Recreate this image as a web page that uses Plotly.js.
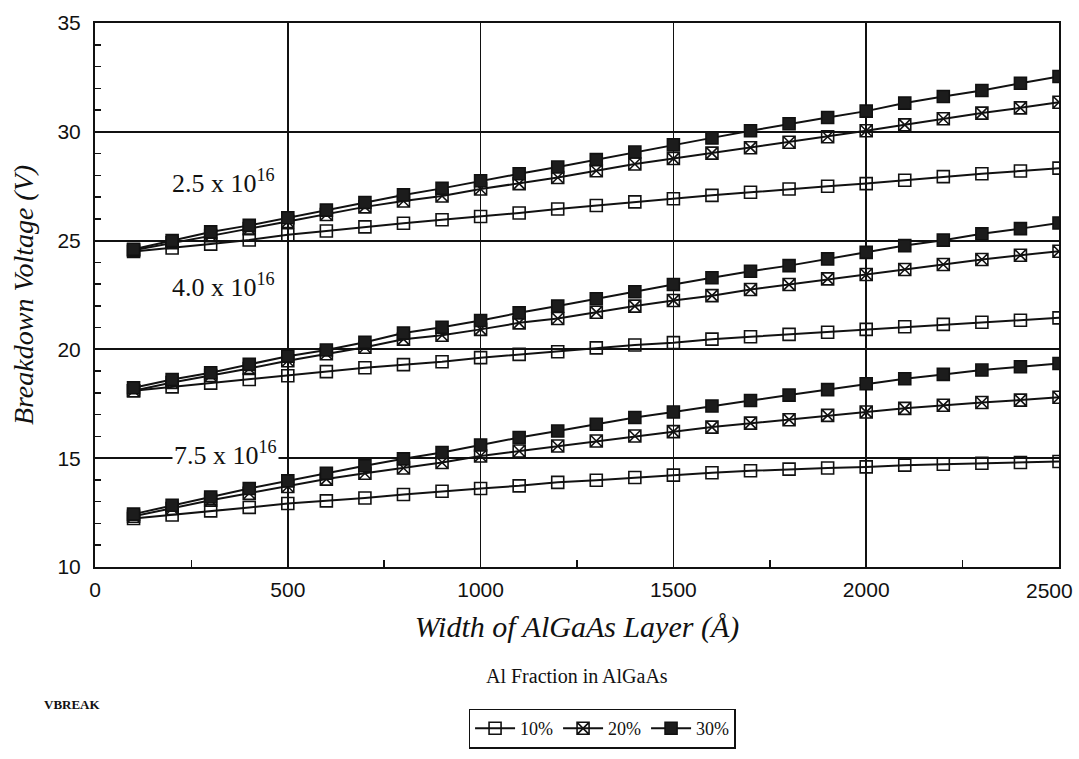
<!DOCTYPE html>
<html><head><meta charset="utf-8">
<script src="https://cdn.plot.ly/plotly-3.0.1.min.js"></script>
<style>html,body{margin:0;padding:0;background:#fff}#chart{width:1079px;height:759px}</style>
</head><body><div id="chart"></div>
<script>
// Width of AlGaAs layer (Å)
const widths = [100,200,300,400,500,600,700,800,900,1000,1100,1200,1300,1400,1500,1600,1700,1800,1900,2000,2100,2200,2300,2400,2500];

// Doping 2.5 x 10^16
const top10 = [24.50,24.66,24.84,25.03,25.27,25.44,25.63,25.80,25.96,26.11,26.27,26.45,26.61,26.78,26.92,27.08,27.22,27.37,27.50,27.62,27.77,27.94,28.07,28.20,28.33];
const top20 = [24.56,24.90,25.23,25.55,25.88,26.20,26.55,26.82,27.05,27.37,27.62,27.90,28.21,28.52,28.77,29.02,29.27,29.52,29.77,30.05,30.32,30.60,30.86,31.10,31.36];
const top30 = [24.60,25.00,25.40,25.70,26.05,26.40,26.75,27.10,27.40,27.75,28.07,28.38,28.72,29.07,29.40,29.72,30.05,30.37,30.66,30.95,31.32,31.62,31.90,32.23,32.54];

// Doping 4.0 x 10^16
const mid10 = [18.10,18.28,18.45,18.62,18.79,18.98,19.16,19.30,19.43,19.62,19.77,19.89,20.07,20.20,20.31,20.47,20.58,20.69,20.79,20.92,21.04,21.15,21.25,21.34,21.45];
const mid20 = [18.10,18.48,18.80,19.12,19.48,19.80,20.10,20.47,20.65,20.92,21.22,21.42,21.71,21.99,22.25,22.47,22.75,22.98,23.24,23.44,23.67,23.90,24.13,24.33,24.51];
const mid30 = [18.24,18.62,18.93,19.31,19.69,19.97,20.33,20.75,21.02,21.33,21.68,21.99,22.33,22.65,22.98,23.29,23.59,23.85,24.16,24.46,24.77,25.02,25.31,25.55,25.81];

// Doping 7.5 x 10^16
const bot10 = [12.23,12.39,12.58,12.74,12.92,13.04,13.17,13.33,13.48,13.61,13.73,13.89,13.99,14.11,14.22,14.33,14.42,14.50,14.55,14.60,14.68,14.72,14.77,14.80,14.85];
const bot20 = [12.33,12.69,13.07,13.39,13.70,14.04,14.31,14.55,14.80,15.10,15.33,15.56,15.79,16.02,16.22,16.43,16.61,16.77,16.97,17.12,17.29,17.43,17.56,17.67,17.80];
const bot30 = [12.43,12.84,13.22,13.61,13.96,14.31,14.65,14.97,15.26,15.61,15.95,16.25,16.56,16.87,17.12,17.40,17.65,17.90,18.15,18.42,18.65,18.85,19.05,19.20,19.35];

const xTickVals = [0,500,1000,1500,2000,2500];
const xTickText = ['0','500','1000','1500','2000','2500'];
const seriesNames = ['10%','20%','30%'];
const dopingLabels = ['2.5 x 10<sup>16</sup>','4.0 x 10<sup>16</sup>','7.5 x 10<sup>16</sup>'];
const groups = [[top10,top20,top30],[mid10,mid20,mid30],[bot10,bot20,bot30]];

const markerStyles = [
  {symbol:'square-open', color:'#111', size:12, line:{width:1.6,color:'#111'}},
  {symbol:'square-x-open', color:'#111', size:12, line:{width:1.6,color:'#111'}},
  {symbol:'square', color:'#1c1c1c', size:12, line:{width:1.6,color:'#111'}}
];

const traces = [];
groups.forEach((g,gi)=>{
  g.forEach((ys,si)=>{
    traces.push({
      x: widths, y: ys, type:'scatter', mode:'lines+markers',
      name: seriesNames[si], legendgroup: seriesNames[si], showlegend: gi===0,
      line:{color:'#111', width:2},
      marker: markerStyles[si],
      hoverinfo:'x+y'
    });
  });
});

const serif = 'Liberation Serif, Times New Roman, serif';
const sans = 'Liberation Sans, Arial, sans-serif';

const layout = {
  width:1079, height:759,
  margin:{l:95, r:20, t:23, b:191},
  paper_bgcolor:'#fff', plot_bgcolor:'#fff',
  showlegend:true,
  legend:{
    orientation:'h', x:0.526, xanchor:'center', y:-0.258, yanchor:'top',
    bordercolor:'#111', borderwidth:1.5, bgcolor:'#fff',
    font:{family:serif, size:18, color:'#111'},
    itemwidth:40, traceorder:'normal', tracegroupgap:0
  },
  xaxis:{
    range:[0,2500], tickvals:xTickVals.slice(0,5), ticktext:xTickText.slice(0,5),
    showgrid:true, gridcolor:'#111', gridwidth:1.5,
    zeroline:false, showline:true, mirror:true, linecolor:'#111', linewidth:2,
    ticks:'', ticklabelstandoff:3,
    tickfont:{family:sans, size:21, color:'#111'},
    minor:{tickvals:[250,750,1250,1750,2250], ticks:'inside', ticklen:7, tickwidth:1.5, tickcolor:'#111', showgrid:false},
    title:{text:'Width of AlGaAs Layer (Å)', font:{family:serif, size:30, style:'italic', color:'#111'}, standoff:16}
  },
  yaxis:{
    range:[10,35], tick0:10, dtick:5,
    showgrid:true, gridcolor:'#111', gridwidth:2,
    zeroline:false, showline:true, mirror:true, linecolor:'#111', linewidth:2,
    ticks:'', ticklabelstandoff:8,
    tickfont:{family:sans, size:21, color:'#111'},
    minor:{dtick:1, ticks:'inside', ticklen:6, tickwidth:1.5, tickcolor:'#111', showgrid:false},
    title:{text:'Breakdown Voltage (V)', font:{family:serif, size:28, style:'italic', color:'#111'}, standoff:16}
  },
  annotations:[
    {x:2500, y:0, xref:'x', yref:'paper', xanchor:'right', yanchor:'top', xshift:16, yshift:-10, showarrow:false, text:xTickText[5], font:{family:sans, size:21, color:'#111'}},
    {x:195, y:27.7, xref:'x', yref:'y', xanchor:'left', yanchor:'middle', showarrow:false, text:dopingLabels[0], font:{family:serif, size:26, color:'#111'}},
    {x:195, y:22.95, xref:'x', yref:'y', xanchor:'left', yanchor:'middle', showarrow:false, text:dopingLabels[1], font:{family:serif, size:26, color:'#111'}},
    {x:200, y:15.2, xref:'x', yref:'y', xanchor:'left', yanchor:'middle', showarrow:false, text:dopingLabels[2], bgcolor:'#fff', borderpad:1, font:{family:serif, size:26, color:'#111'}},
    {x:0.5, y:-0.2, xref:'paper', yref:'paper', xanchor:'center', yanchor:'middle', showarrow:false, text:'Al Fraction in AlGaAs', font:{family:serif, size:20, color:'#111'}},
    {x:-0.055, y:-0.253, xref:'paper', yref:'paper', xanchor:'left', yanchor:'middle', showarrow:false, text:'<b>VBREAK</b>', font:{family:serif, size:13, color:'#111'}}
  ]
};

Plotly.newPlot('chart', traces, layout, {displayModeBar:false, staticPlot:true});
</script>
</body></html>
